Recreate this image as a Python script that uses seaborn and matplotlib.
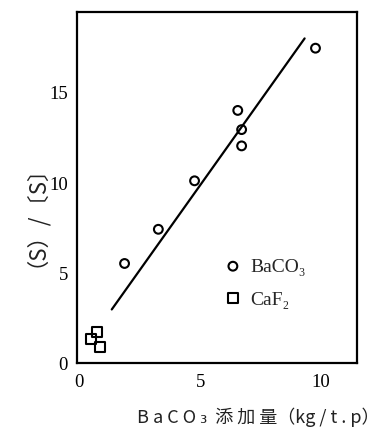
import matplotlib
matplotlib.use("Agg")
import matplotlib.pyplot as plt
from matplotlib.font_manager import FontProperties
import seaborn as sns
import pandas as pd

# ---- data ----
baco3_x = [1.87, 3.27, 4.77, 6.56, 6.72, 6.72, 9.78]
baco3_y = [5.5, 7.39, 10.07, 13.96, 12.9, 12.0, 17.4]
caf2_x = [0.46, 0.74, 0.84]
caf2_y = [1.3, 1.7, 0.89]
line_x = [1.34, 9.33]
line_y = [2.96, 17.94]
series_names = ["BaCO\u2083", "CaF\u2082"]
xticks = [0, 5, 10]
yticks = [0, 5, 10, 15]

sns.set_theme(style="white")
plt.rcParams["font.family"] = ["Liberation Serif", "DejaVu Serif"]

fig = plt.figure(figsize=(3.82, 4.31), dpi=100)
ax = fig.add_axes([77 / 382, 1 - 364 / 431, 280 / 382, 351 / 431])

df_b = pd.DataFrame({"x": baco3_x, "y": baco3_y})
df_c = pd.DataFrame({"x": caf2_x, "y": caf2_y})
df_l = pd.DataFrame({"x": line_x, "y": line_y})

sns.lineplot(data=df_l, x="x", y="y", ax=ax, color="black", linewidth=1.6,
             legend=False)
sns.scatterplot(data=df_b, x="x", y="y", ax=ax, marker="o", s=40,
                color="black", facecolor="none", edgecolor="black",
                linewidth=1.5, label=series_names[0], zorder=3)
sns.scatterplot(data=df_c, x="x", y="y", ax=ax, marker="s", s=52,
                color="black", facecolor="none", edgecolor="black",
                linewidth=1.5, label=series_names[1], zorder=3)

ax.set_xlim(-0.1, 11.5)
ax.set_ylim(0, 19.4)
ax.set_xticks(xticks)
ax.set_yticks(yticks)
ax.set_xticklabels([str(t) for t in xticks])
ax.set_yticklabels([str(t) for t in yticks])
ax.tick_params(direction="in", length=4, width=1.2, colors="black",
               labelsize=13.5)
ax.tick_params(axis="y", pad=6.5)
ax.tick_params(axis="x", pad=7.5)
for sp in ax.spines.values():
    sp.set_color("black")
    sp.set_linewidth(1.6)
ax.set_xlabel("")
ax.set_ylabel("")

leg = ax.legend(loc="upper left", bbox_to_anchor=(0.529, 0.30), frameon=False,
                prop=FontProperties(family=["Liberation Serif", "DejaVu Serif"],
                                    size=14),
                handletextpad=0.5, labelspacing=0.75, borderaxespad=0,
                borderpad=0, handlelength=0.8)

fig.text(24 / 382, 1 - 205 / 431, "（S）/〔S〕", rotation=90, ha="center",
         va="center", fontsize=16,
         family=["Noto Sans CJK JP", "DejaVu Sans"], color="#222222")
fig.text(258 / 382, 1 - 417 / 431,
         "B a C O \u2083  添 加 量（kg / t . p）", ha="center", va="center",
         fontsize=13, family=["Noto Sans CJK JP", "DejaVu Sans"],
         color="#222222")

fig.savefig("out.png", dpi=100)
